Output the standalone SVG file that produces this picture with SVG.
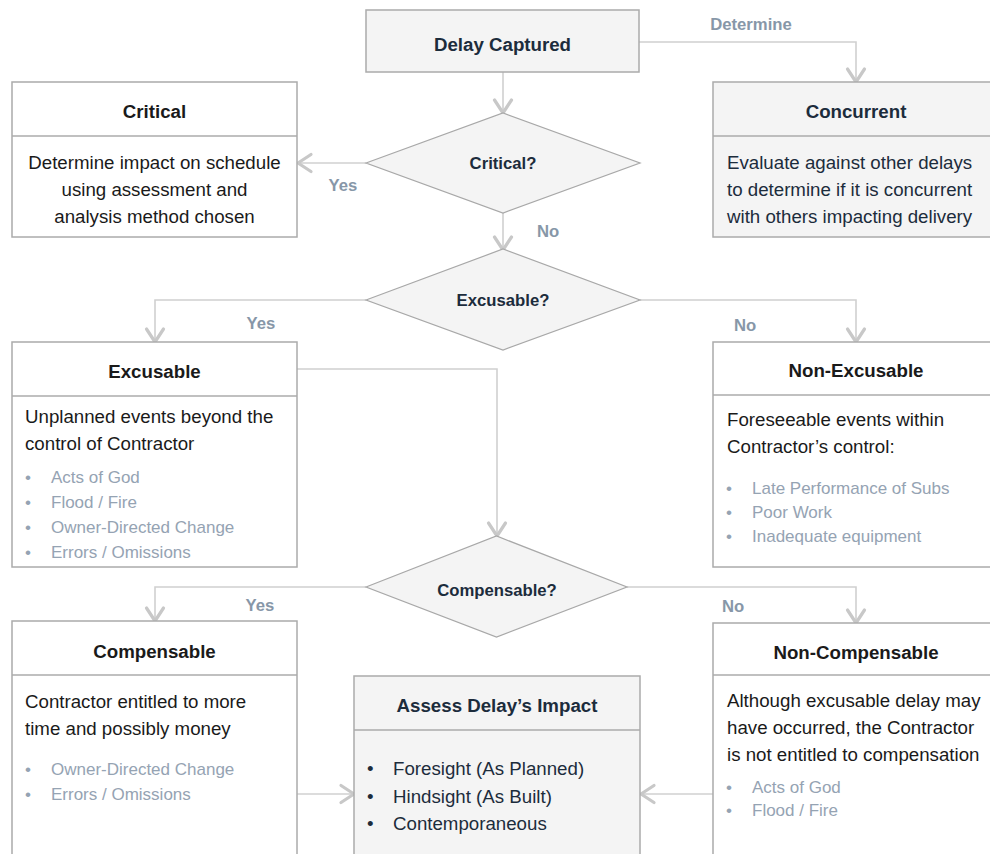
<svg xmlns="http://www.w3.org/2000/svg" width="990" height="854" viewBox="0 0 990 854">
<defs>
<marker id="arr" markerUnits="userSpaceOnUse" markerWidth="30" markerHeight="30" viewBox="-20 -15 30 30" refX="-1" refY="0" orient="auto">
<path d="M -14 -8.5 L -1 0 L -14 8.5" fill="none" stroke="#c8c8c8" stroke-width="3.2" stroke-linecap="round" stroke-linejoin="round"/>
</marker>
<style>
.box{fill:#ffffff;stroke:#ababab;stroke-width:1.5}
.gbox{fill:#f4f4f4;stroke:#ababab;stroke-width:1.5}
.div{stroke:#ababab;stroke-width:1.5}
.dia{fill:#f4f4f4;stroke:#a8a8a8;stroke-width:1.2}
.con{fill:none;stroke:#d0d0d0;stroke-width:1.6}
.title{font-family:"Liberation Sans",Arial,sans-serif;font-weight:bold;font-size:18.7px;fill:#1a1a1a;text-anchor:middle}
.ntitle{font-family:"Liberation Sans",Arial,sans-serif;font-weight:bold;font-size:18.7px;fill:#1c2c3c;text-anchor:middle}
.q{font-family:"Liberation Sans",Arial,sans-serif;font-weight:bold;font-size:16.7px;fill:#1c2c3c;text-anchor:middle}
.lab{font-family:"Liberation Sans",Arial,sans-serif;font-weight:bold;font-size:16.7px;fill:#8797a8;text-anchor:middle}
.body{font-family:"Liberation Sans",Arial,sans-serif;font-size:18.7px;fill:#1a1a1a}
.nbody{font-family:"Liberation Sans",Arial,sans-serif;font-size:18.7px;fill:#1c2c3c}
.bul{font-family:"Liberation Sans",Arial,sans-serif;font-size:17px;fill:#95a3b3}
.c{text-anchor:middle}
</style>
</defs>

<g id="connectors">
<path class="con" d="M 503 72 L 503 113" marker-end="url(#arr)"/>
<path class="con" d="M 639 42 L 856 42 L 856 82" marker-end="url(#arr)"/>
<path class="con" d="M 366 163 L 298 163" marker-end="url(#arr)"/>
<path class="con" d="M 503 213 L 503 250" marker-end="url(#arr)"/>
<path class="con" d="M 366 300 L 155 300 L 155 342" marker-end="url(#arr)"/>
<path class="con" d="M 640 300 L 856 300 L 856 342" marker-end="url(#arr)"/>
<path class="con" d="M 297 369 L 497 369 L 497 536" marker-end="url(#arr)"/>
<path class="con" d="M 366 587 L 155 587 L 155 621" marker-end="url(#arr)"/>
<path class="con" d="M 627 587 L 856 587 L 856 623" marker-end="url(#arr)"/>
<path class="con" d="M 297 794 L 354 794" marker-end="url(#arr)"/>
<path class="con" d="M 713 794 L 641 794" marker-end="url(#arr)"/>
<text class="lab" x="751" y="30">Determine</text>
<text class="lab" x="343" y="191">Yes</text>
<text class="lab" x="548" y="237">No</text>
<text class="lab" x="261" y="329">Yes</text>
<text class="lab" x="745" y="331">No</text>
<text class="lab" x="260" y="611">Yes</text>
<text class="lab" x="733" y="612">No</text>
</g>

<g id="delay-captured">
<rect class="gbox" x="366" y="10" width="273" height="62"/>
<text class="ntitle" x="502.5" y="51">Delay Captured</text>
</g>

<g id="critical-q">
<polygon class="dia" points="366,163 503,113 640,163 503,213"/>
<text class="q" x="503" y="169">Critical?</text>
</g>

<g id="critical">
<rect class="box" x="12" y="82" width="285" height="155"/>
<line class="div" x1="12" y1="136" x2="297" y2="136"/>
<text class="title" x="154.5" y="118">Critical</text>
<text class="body c" x="154.5" y="169">Determine impact on schedule</text>
<text class="body c" x="154.5" y="196">using assessment and</text>
<text class="body c" x="154.5" y="223">analysis method chosen</text>
</g>

<g id="concurrent">
<rect class="gbox" x="713" y="82" width="290" height="155"/>
<line class="div" x1="713" y1="136" x2="1003" y2="136"/>
<text class="ntitle" x="856" y="118">Concurrent</text>
<text class="nbody" x="727" y="169">Evaluate against other delays</text>
<text class="nbody" x="727" y="196">to determine if it is concurrent</text>
<text class="nbody" x="727" y="223">with others impacting delivery</text>
</g>

<g id="excusable-q">
<polygon class="dia" points="366,300 503,249 640,300 503,350"/>
<text class="q" x="503" y="306">Excusable?</text>
</g>

<g id="excusable">
<rect class="box" x="12" y="342" width="285" height="225"/>
<line class="div" x1="12" y1="396" x2="297" y2="396"/>
<text class="title" x="154.5" y="378">Excusable</text>
<text class="body" x="25" y="423">Unplanned events beyond the</text>
<text class="body" x="25" y="450">control of Contractor</text>
<text class="bul" x="25" y="483">•</text><text class="bul" x="51" y="483">Acts of God</text>
<text class="bul" x="25" y="508">•</text><text class="bul" x="51" y="508">Flood / Fire</text>
<text class="bul" x="25" y="533">•</text><text class="bul" x="51" y="533">Owner-Directed Change</text>
<text class="bul" x="25" y="558">•</text><text class="bul" x="51" y="558">Errors / Omissions</text>
</g>

<g id="non-excusable">
<rect class="box" x="713" y="342" width="290" height="225"/>
<line class="div" x1="713" y1="395" x2="1003" y2="395"/>
<text class="title" x="856" y="377">Non-Excusable</text>
<text class="body" x="727" y="426">Foreseeable events within</text>
<text class="body" x="727" y="453">Contractor’s control:</text>
<text class="bul" x="726" y="494">•</text><text class="bul" x="752" y="494">Late Performance of Subs</text>
<text class="bul" x="726" y="518">•</text><text class="bul" x="752" y="518">Poor Work</text>
<text class="bul" x="726" y="542">•</text><text class="bul" x="752" y="542">Inadequate equipment</text>
</g>

<g id="compensable-q">
<polygon class="dia" points="366,587 496.5,536 627,587 496.5,637"/>
<text class="q" x="497" y="596">Compensable?</text>
</g>

<g id="compensable">
<rect class="box" x="12" y="621" width="285" height="250"/>
<line class="div" x1="12" y1="675" x2="297" y2="675"/>
<text class="title" x="154.5" y="658">Compensable</text>
<text class="body" x="25" y="708">Contractor entitled to more</text>
<text class="body" x="25" y="735">time and possibly money</text>
<text class="bul" x="25" y="775">•</text><text class="bul" x="51" y="775">Owner-Directed Change</text>
<text class="bul" x="25" y="800">•</text><text class="bul" x="51" y="800">Errors / Omissions</text>
</g>

<g id="assess">
<rect class="gbox" x="354" y="676" width="286" height="200"/>
<line class="div" x1="354" y1="730" x2="640" y2="730"/>
<text class="ntitle" x="497" y="712">Assess Delay’s Impact</text>
<text class="nbody" x="367" y="775">•</text><text class="nbody" x="393" y="775">Foresight (As Planned)</text>
<text class="nbody" x="367" y="803">•</text><text class="nbody" x="393" y="803">Hindsight (As Built)</text>
<text class="nbody" x="367" y="830">•</text><text class="nbody" x="393" y="830">Contemporaneous</text>
</g>

<g id="non-compensable">
<rect class="box" x="713" y="623" width="290" height="250"/>
<line class="div" x1="713" y1="675" x2="1003" y2="675"/>
<text class="title" x="856" y="659">Non-Compensable</text>
<text class="body" x="727" y="707">Although excusable delay may</text>
<text class="body" x="727" y="734">have occurred, the Contractor</text>
<text class="body" x="727" y="761">is not entitled to compensation</text>
<text class="bul" x="726" y="793">•</text><text class="bul" x="752" y="793">Acts of God</text>
<text class="bul" x="726" y="816">•</text><text class="bul" x="752" y="816">Flood / Fire</text>
</g>
</svg>
